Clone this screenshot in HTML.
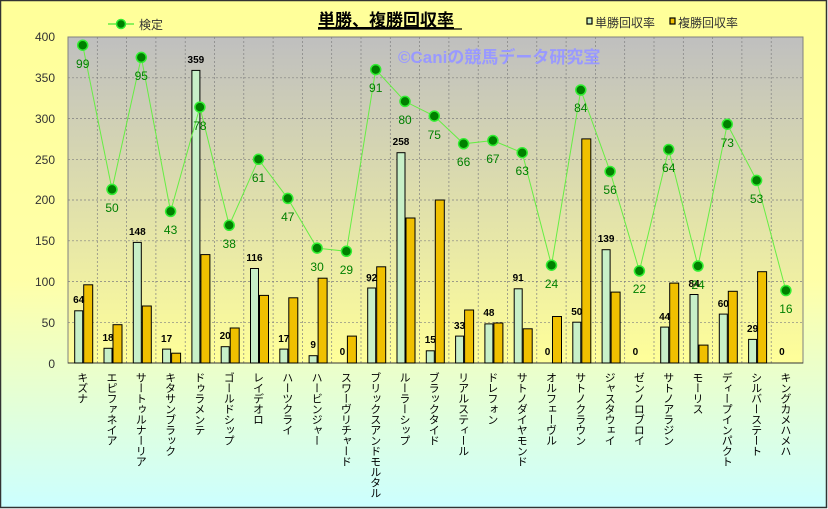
<!DOCTYPE html>
<html><head><meta charset="utf-8"><style>
body{margin:0;width:828px;height:509px;overflow:hidden;font-family:"Liberation Sans","Noto Sans CJK JP",sans-serif;}
#c{position:relative;width:828px;height:509px;}
.v{position:absolute;top:372px;writing-mode:vertical-rl;text-orientation:upright;font-size:11px;line-height:12px;color:#000;font-family:"Noto Sans CJK JP",sans-serif;letter-spacing:-0.5px;transform:translateX(-6px);}
</style></head><body><div id="c">
<svg width="828" height="509" style="position:absolute;left:0;top:0" font-family="Liberation Sans, Noto Sans CJK JP, sans-serif">
<defs>
<linearGradient id="bg" x1="0" y1="0" x2="0" y2="1"><stop offset="0" stop-color="#ffff99"/><stop offset="0.55" stop-color="#ffffa8"/><stop offset="1" stop-color="#ccffff"/></linearGradient>
<linearGradient id="pa" x1="0" y1="0" x2="0" y2="1"><stop offset="0" stop-color="#bfbfbf"/><stop offset="1" stop-color="#ffff99"/></linearGradient>
</defs>
<rect x="0.5" y="0.5" width="826" height="507" fill="url(#bg)" stroke="#333" stroke-width="1.5"/>
<rect x="68" y="37" width="735" height="326" fill="url(#pa)" stroke="#808080" stroke-width="1"/>
<g stroke="#808080" stroke-width="0.7" stroke-dasharray="2,2">
<line x1="68" x2="803" y1="77.8" y2="77.8"/><line x1="68" x2="803" y1="118.5" y2="118.5"/><line x1="68" x2="803" y1="159.3" y2="159.3"/><line x1="68" x2="803" y1="200" y2="200"/><line x1="68" x2="803" y1="240.8" y2="240.8"/><line x1="68" x2="803" y1="281.5" y2="281.5"/><line x1="68" x2="803" y1="322.3" y2="322.3"/>
<line y1="37" y2="363" x1="97.3" x2="97.3"/><line y1="37" y2="363" x1="126.6" x2="126.6"/><line y1="37" y2="363" x1="155.9" x2="155.9"/><line y1="37" y2="363" x1="185.2" x2="185.2"/><line y1="37" y2="363" x1="214.5" x2="214.5"/><line y1="37" y2="363" x1="243.8" x2="243.8"/><line y1="37" y2="363" x1="273.1" x2="273.1"/><line y1="37" y2="363" x1="302.4" x2="302.4"/><line y1="37" y2="363" x1="331.7" x2="331.7"/><line y1="37" y2="363" x1="361" x2="361"/><line y1="37" y2="363" x1="390.3" x2="390.3"/><line y1="37" y2="363" x1="419.6" x2="419.6"/><line y1="37" y2="363" x1="448.9" x2="448.9"/><line y1="37" y2="363" x1="478.2" x2="478.2"/><line y1="37" y2="363" x1="507.5" x2="507.5"/><line y1="37" y2="363" x1="536.8" x2="536.8"/><line y1="37" y2="363" x1="566.1" x2="566.1"/><line y1="37" y2="363" x1="595.4" x2="595.4"/><line y1="37" y2="363" x1="624.7" x2="624.7"/><line y1="37" y2="363" x1="654" x2="654"/><line y1="37" y2="363" x1="683.3" x2="683.3"/><line y1="37" y2="363" x1="712.6" x2="712.6"/><line y1="37" y2="363" x1="741.9" x2="741.9"/><line y1="37" y2="363" x1="771.2" x2="771.2"/>
</g>
<line x1="68" x2="803" y1="363" y2="363" stroke="#333"/>
<g font-size="12" fill="#333" text-anchor="end">
<text x="55" y="41">400</text><text x="55" y="82">350</text><text x="55" y="123">300</text><text x="55" y="164">250</text><text x="55" y="204">200</text><text x="55" y="245">150</text><text x="55" y="286">100</text><text x="55" y="327">50</text><text x="55" y="368">0</text>
</g>
<text x="398" y="63" font-size="17" font-weight="bold" fill="#9999ff">©Caniの競馬データ研究室</text>
<g fill="#c8f0c8" stroke="#000" stroke-width="1">
<rect x="74.7" y="310.8" width="8" height="52.2"/><rect x="104" y="348.3" width="8" height="14.7"/><rect x="133.3" y="242.4" width="8" height="120.6"/><rect x="162.6" y="349.1" width="8" height="13.9"/><rect x="191.9" y="70.4" width="8" height="292.6"/><rect x="221.2" y="346.7" width="8" height="16.3"/><rect x="250.5" y="268.5" width="8" height="94.5"/><rect x="279.8" y="349.1" width="8" height="13.9"/><rect x="309.1" y="355.7" width="8" height="7.3"/><rect x="367.7" y="288" width="8" height="75"/><rect x="397" y="152.7" width="8" height="210.3"/><rect x="426.3" y="350.8" width="8" height="12.2"/><rect x="455.6" y="336.1" width="8" height="26.9"/><rect x="484.9" y="323.9" width="8" height="39.1"/><rect x="514.2" y="288.8" width="8" height="74.2"/><rect x="572.8" y="322.2" width="8" height="40.8"/><rect x="602.1" y="249.7" width="8" height="113.3"/><rect x="660.7" y="327.1" width="8" height="35.9"/><rect x="690" y="294.5" width="8" height="68.5"/><rect x="719.3" y="314.1" width="8" height="48.9"/><rect x="748.6" y="339.4" width="8" height="23.6"/>
</g>
<g fill="#f0c000" stroke="#000" stroke-width="1">
<rect x="83.7" y="284.8" width="9" height="78.2"/><rect x="113" y="324.7" width="9" height="38.3"/><rect x="142.3" y="306" width="9" height="57"/><rect x="171.6" y="353.2" width="9" height="9.8"/><rect x="200.9" y="254.6" width="9" height="108.4"/><rect x="230.2" y="328" width="9" height="35"/><rect x="259.5" y="295.4" width="9" height="67.6"/><rect x="288.8" y="297.8" width="9" height="65.2"/><rect x="318.1" y="278.2" width="9" height="84.8"/><rect x="347.4" y="336.1" width="9" height="26.9"/><rect x="376.7" y="266.8" width="9" height="96.2"/><rect x="406" y="218" width="9" height="145"/><rect x="435.3" y="200" width="9" height="163"/><rect x="464.6" y="310" width="9" height="53"/><rect x="493.9" y="323" width="9" height="40"/><rect x="523.2" y="328.8" width="9" height="34.2"/><rect x="552.5" y="316.5" width="9" height="46.5"/><rect x="581.8" y="138.9" width="9" height="224.1"/><rect x="611.1" y="292.1" width="9" height="70.9"/><rect x="669.7" y="283.1" width="9" height="79.9"/><rect x="699" y="345.1" width="9" height="17.9"/><rect x="728.3" y="291.3" width="9" height="71.7"/><rect x="757.6" y="271.7" width="9" height="91.3"/>
</g>
<g font-size="10" font-weight="bold" fill="#000" text-anchor="middle">
<text x="78.7" y="303">64</text><text x="108" y="341">18</text><text x="137.3" y="235">148</text><text x="166.6" y="342">17</text><text x="195.9" y="63">359</text><text x="225.2" y="339">20</text><text x="254.5" y="261">116</text><text x="283.8" y="342">17</text><text x="313.1" y="348">9</text><text x="342.4" y="355">0</text><text x="371.7" y="281">92</text><text x="401" y="145">258</text><text x="430.3" y="343">15</text><text x="459.6" y="329">33</text><text x="488.9" y="316">48</text><text x="518.2" y="281">91</text><text x="547.5" y="355">0</text><text x="576.8" y="315">50</text><text x="606.1" y="242">139</text><text x="635.4" y="355">0</text><text x="664.7" y="320">44</text><text x="694" y="287">84</text><text x="723.3" y="307">60</text><text x="752.6" y="332">29</text><text x="781.9" y="355">0</text>
</g>
<polyline fill="none" stroke="#66ee44" stroke-width="1" points="82.7,45.2 112,189.4 141.3,57.4 170.6,211.4 199.9,107.1 229.2,225.3 258.5,159.3 287.8,198.4 317.1,248.1 346.4,251.3 375.7,69.6 405,101.4 434.3,116.1 463.6,143.8 492.9,140.5 522.2,152.7 551.5,265.2 580.8,90 610.1,171.5 639.4,270.9 668.7,149.5 698,266 727.3,124.2 756.6,180.4 785.9,290.5"/>
<g fill="#008000" stroke="#33ee33" stroke-width="1.5">
<circle cx="82.7" cy="45.2" r="5"/><circle cx="112" cy="189.4" r="5"/><circle cx="141.3" cy="57.4" r="5"/><circle cx="170.6" cy="211.4" r="5"/><circle cx="199.9" cy="107.1" r="5"/><circle cx="229.2" cy="225.3" r="5"/><circle cx="258.5" cy="159.3" r="5"/><circle cx="287.8" cy="198.4" r="5"/><circle cx="317.1" cy="248.1" r="5"/><circle cx="346.4" cy="251.3" r="5"/><circle cx="375.7" cy="69.6" r="5"/><circle cx="405" cy="101.4" r="5"/><circle cx="434.3" cy="116.1" r="5"/><circle cx="463.6" cy="143.8" r="5"/><circle cx="492.9" cy="140.5" r="5"/><circle cx="522.2" cy="152.7" r="5"/><circle cx="551.5" cy="265.2" r="5"/><circle cx="580.8" cy="90" r="5"/><circle cx="610.1" cy="171.5" r="5"/><circle cx="639.4" cy="270.9" r="5"/><circle cx="668.7" cy="149.5" r="5"/><circle cx="698" cy="266" r="5"/><circle cx="727.3" cy="124.2" r="5"/><circle cx="756.6" cy="180.4" r="5"/><circle cx="785.9" cy="290.5" r="5"/>
</g>
<g font-size="12" fill="#008000" text-anchor="middle">
<text x="82.7" y="68">99</text><text x="112" y="212">50</text><text x="141.3" y="80">95</text><text x="170.6" y="234">43</text><text x="199.9" y="130">78</text><text x="229.2" y="248">38</text><text x="258.5" y="182">61</text><text x="287.8" y="221">47</text><text x="317.1" y="271">30</text><text x="346.4" y="274">29</text><text x="375.7" y="92">91</text><text x="405" y="124">80</text><text x="434.3" y="139">75</text><text x="463.6" y="166">66</text><text x="492.9" y="163">67</text><text x="522.2" y="175">63</text><text x="551.5" y="288">24</text><text x="580.8" y="112">84</text><text x="610.1" y="194">56</text><text x="639.4" y="293">22</text><text x="668.7" y="172">64</text><text x="698" y="289">24</text><text x="727.3" y="147">73</text><text x="756.6" y="203">53</text><text x="785.9" y="313">16</text>
</g>
<line x1="108" x2="134" y1="24" y2="24" stroke="#66ee44" stroke-width="1.5"/>
<circle cx="121" cy="24" r="4.5" fill="#008000" stroke="#33ee33" stroke-width="1.5"/>
<text x="139" y="29" font-size="12" fill="#333">検定</text>
<text x="318" y="26" font-size="17" font-weight="bold" fill="#000" text-decoration="underline">単勝、複勝回収率</text>
<line x1="318" x2="462" y1="29" y2="29" stroke="#000" stroke-width="1.2"/>
<rect x="587" y="18" width="5" height="6" fill="#c8f0c8" stroke="#000" stroke-width="1.2"/>
<text x="595" y="27" font-size="12" fill="#333">単勝回収率</text>
<rect x="670" y="18" width="5" height="6" fill="#f0c000" stroke="#000" stroke-width="1.2"/>
<text x="678" y="27" font-size="12" fill="#333">複勝回収率</text>
</svg>
<div class="v" style="left:82.7px">キズナ</div>
<div class="v" style="left:112px">エピファネイア</div>
<div class="v" style="left:141.3px">サートゥルナーリア</div>
<div class="v" style="left:170.6px">キタサンブラック</div>
<div class="v" style="left:199.9px">ドゥラメンテ</div>
<div class="v" style="left:229.2px">ゴールドシップ</div>
<div class="v" style="left:258.5px">レイデオロ</div>
<div class="v" style="left:287.8px">ハーツクライ</div>
<div class="v" style="left:317.1px">ハービンジャー</div>
<div class="v" style="left:346.4px">スワーヴリチャード</div>
<div class="v" style="left:375.7px">ブリックスアンドモルタル</div>
<div class="v" style="left:405px">ルーラーシップ</div>
<div class="v" style="left:434.3px">ブラックタイド</div>
<div class="v" style="left:463.6px">リアルスティール</div>
<div class="v" style="left:492.9px">ドレフォン</div>
<div class="v" style="left:522.2px">サトノダイヤモンド</div>
<div class="v" style="left:551.5px">オルフェーヴル</div>
<div class="v" style="left:580.8px">サトノクラウン</div>
<div class="v" style="left:610.1px">ジャスタウェイ</div>
<div class="v" style="left:639.4px">ゼンノロブロイ</div>
<div class="v" style="left:668.7px">サトノアラジン</div>
<div class="v" style="left:698px">モーリス</div>
<div class="v" style="left:727.3px">ディープインパクト</div>
<div class="v" style="left:756.6px">シルバーステート</div>
<div class="v" style="left:785.9px">キングカメハメハ</div>
</div></body></html>
